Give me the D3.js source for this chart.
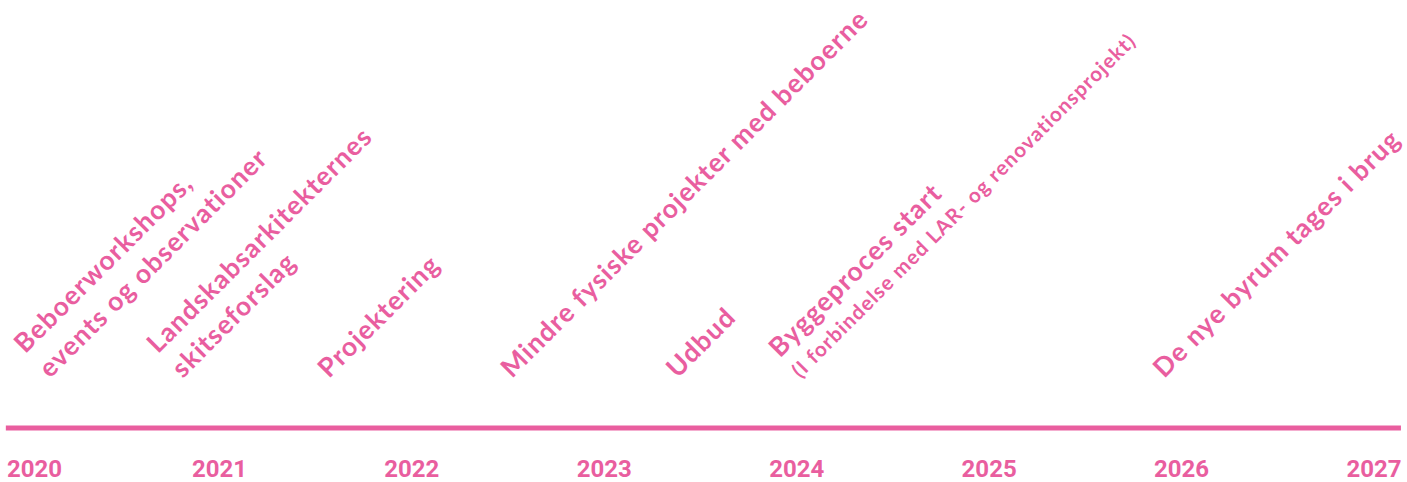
<!DOCTYPE html>
<html>
<head>
<meta charset="utf-8">
<script src="https://cdn.jsdelivr.net/npm/d3@7"></script>
<style>
  body { margin: 0; background: #fff; }
</style>
</head>
<body>
<svg width="1407" height="482"></svg>
<script>
const years = [2020, 2021, 2022, 2023, 2024, 2025, 2026, 2027];

// where each milestone text starts on the timeline (last line start)
const milestoneYears = [2020.12, 2020.81, 2021.57, 2022.52, 2023.38, 2024.02, 2025.91];
const milestoneLines = [
  ["Beboerworkshops,", "events og observationer"],
  ["Landskabsarkitekternes", "skitseforslag"],
  ["Projektering"],
  ["Mindre fysiske projekter med beboerne"],
  ["Udbud"],
  ["Byggeproces start", "(I forbindelse med LAR- og renovationsprojekt)"],
  ["De nye byrum tages i brug"]
];
// second line is a small note for this one
const smallNote = [false, false, false, false, false, true, false];

const pink = "#e95e9f";
const font = "Lato, 'Open Sans', sans-serif";

const svg = d3.select("svg");

const x = d3.scaleLinear()
  .domain([2020, 2027])
  .range([27, 1374]);

const lineY = 428;
const labelY = 379;
const angle = -45;

// timeline
svg.append("line")
  .attr("x1", x(2019.89))
  .attr("x2", x(2027.14))
  .attr("y1", lineY)
  .attr("y2", lineY)
  .attr("stroke", pink)
  .attr("stroke-width", 5);

// year labels
svg.selectAll(".year")
  .data(years)
  .enter().append("text")
  .attr("class", "year")
  .attr("x", (d, i) => i === 0 ? x(d) - 20 : x(d))
  .attr("y", 477)
  .attr("text-anchor", (d, i) => i === 0 ? "start" : "middle")
  .attr("fill", pink)
  .style("font-family", "Roboto, sans-serif")
  .style("font-weight", "bold")
  .style("font-size", "24px")
  .text(d => d);

// milestone labels, rotated
const ms = svg.selectAll(".milestone")
  .data(milestoneYears.map((d, i) => ({ year: d, lines: milestoneLines[i], note: smallNote[i] })))
  .enter().append("g")
  .attr("class", "milestone")
  .attr("transform", d => `translate(${x(d.year)},${labelY}) rotate(${angle})`);

ms.each(function(d) {
  const g = d3.select(this);
  const n = d.lines.length;
  d.lines.forEach((t, j) => {
    const isNote = d.note && j === n - 1;
    const lh = d.note ? 29 : 35;
    g.append("text")
      .attr("x", 0)
      .attr("y", -(n - 1 - j) * lh)
      .attr("fill", pink)
      .style("font-family", font)
      .style("font-weight", "bold")
      .style("font-size", isNote ? "20.5px" : "26.5px")
      .style("letter-spacing", isNote ? "1.1px" : "1.15px")
      .text(t);
  });
});
</script>
</body>
</html>
